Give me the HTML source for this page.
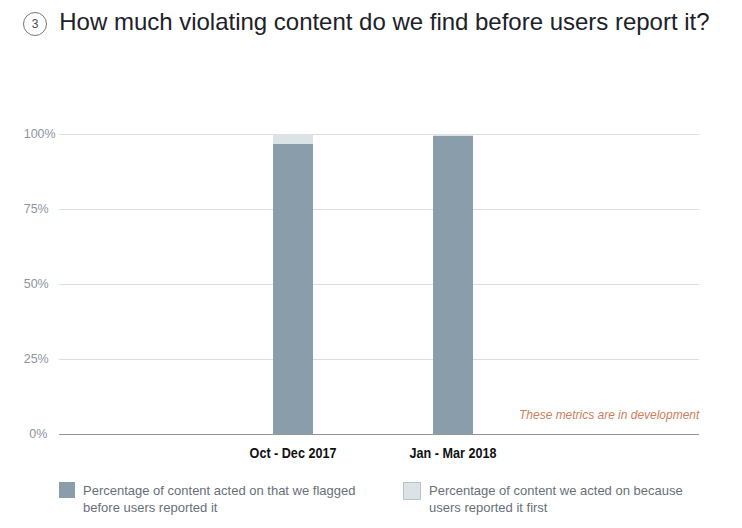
<!DOCTYPE html>
<html><head><meta charset="utf-8">
<style>
html,body{margin:0;padding:0;background:#fff;}
body{width:742px;height:528px;position:relative;overflow:hidden;font-family:"Liberation Sans",sans-serif;}
.abs{position:absolute;white-space:nowrap;}
.circle{left:23px;top:12px;width:22px;height:22px;border:1px solid #777;border-radius:50%;font-size:12px;color:#4a4a4a;text-align:center;line-height:22px;}
.title{left:59.3px;top:8px;font-size:24px;line-height:28px;color:#1d2129;letter-spacing:-0.013px;}
.grid{left:58.5px;width:640.5px;height:1px;background:#dedede;}
.axis{left:58.5px;width:640.5px;height:1px;background:#959595;top:434px;}
.yl{left:23.7px;font-size:12.5px;line-height:14px;color:#8d949e;transform:scaleY(1.08);transform-origin:0 2px;}
.bar{width:40px;}
.dark{background:#899eaa;}
.light{background:#dbe3e7;}
.xl{font-size:12.6px;font-weight:bold;color:#111;line-height:14px;text-align:center;width:160px;transform:scaleY(1.1);transform-origin:50% 11px;}
.note{font-size:12px;font-style:italic;color:#cb8159;right:42.7px;top:408px;line-height:14px;letter-spacing:-0.015px;}
.lg{font-size:13px;line-height:17px;color:#686f79;white-space:normal;}
.sq{width:16px;height:16px;top:482px;}
</style></head><body>
<div class="abs circle">3</div>
<div class="abs title">How much violating content do we find before users report it?</div>

<div class="abs grid" style="top:134px"></div>
<div class="abs grid" style="top:209px"></div>
<div class="abs grid" style="top:284px"></div>
<div class="abs grid" style="top:359px"></div>

<div class="abs yl" style="top:126px">100%</div>
<div class="abs yl" style="top:201px">75%</div>
<div class="abs yl" style="top:276px">50%</div>
<div class="abs yl" style="top:351px">25%</div>
<div class="abs yl" style="top:426px;left:29.3px">0%</div>

<div class="abs bar light" style="left:273px;top:134px;height:10px"></div>
<div class="abs bar dark" style="left:273px;top:144px;height:290px"></div>
<div class="abs bar light" style="left:433px;top:134px;height:2px"></div>
<div class="abs bar dark" style="left:433px;top:136px;height:298px"></div>
<div class="abs axis"></div>

<div class="abs xl" style="left:213px;top:447px">Oct - Dec 2017</div>
<div class="abs xl" style="left:373px;top:447px">Jan - Mar 2018</div>
<div class="abs note">These metrics are in development</div>

<div class="abs sq dark" style="left:59px"></div>
<div class="abs lg" style="left:83px;top:482px;width:300px">Percentage of content acted on that we flagged<br>before users reported it</div>
<div class="abs sq light" style="left:403px;width:18px;height:18px;border:1px solid #b9c3c9;box-sizing:border-box"></div>
<div class="abs lg" style="left:429px;top:482px;width:300px">Percentage of content we acted on because<br>users reported it first</div>
</body></html>
